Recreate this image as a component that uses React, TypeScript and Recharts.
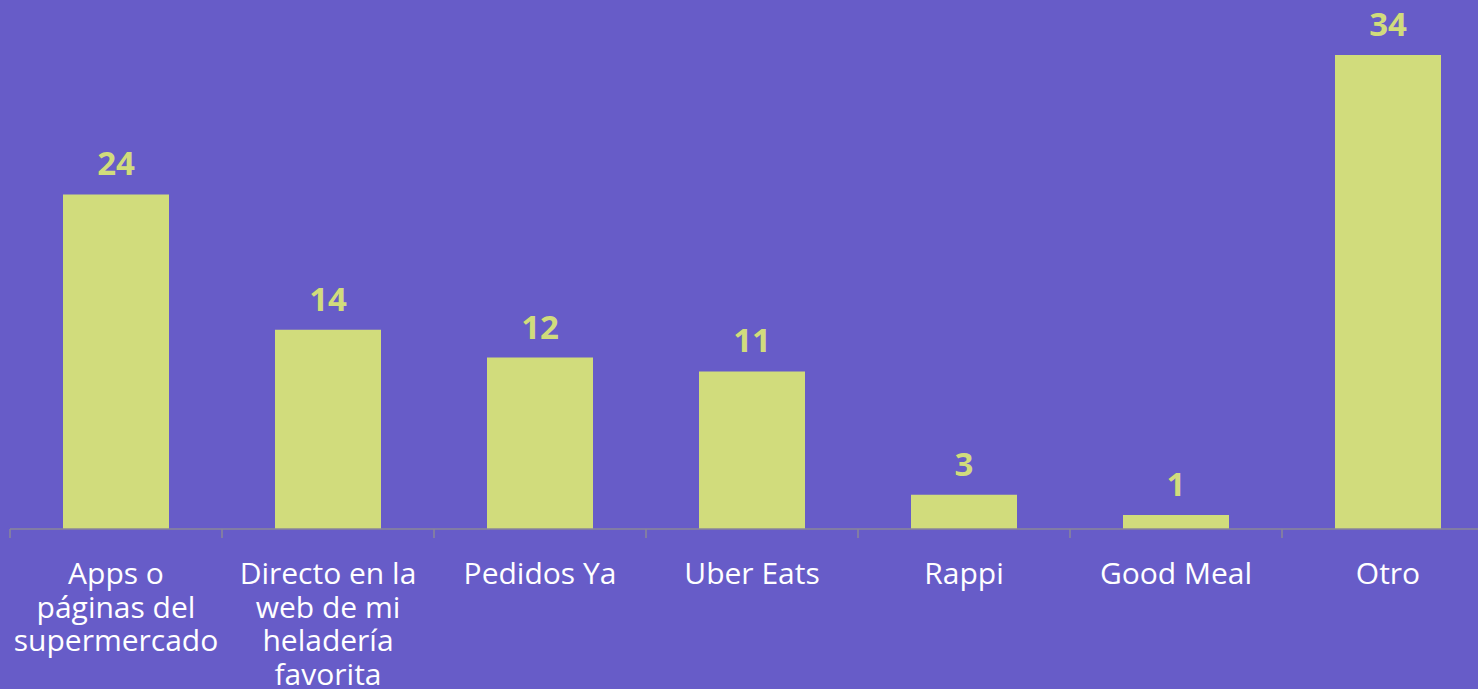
import { BarChart, Bar, XAxis, YAxis, LabelList } from "recharts";

const categories = [
  "Apps o\npáginas del\nsupermercado",
  "Directo en la\nweb de mi\nheladería\nfavorita",
  "Pedidos Ya",
  "Uber Eats",
  "Rappi",
  "Good Meal",
  "Otro",
];
// bar heights
const values = [24.0, 14.3, 12.3, 11.3, 2.45, 1.0, 34.0];
// labels as printed above the bars
const valueLabels = ["24", "14", "12", "11", "3", "1", "34"];

const data = categories.map((name, i) => ({
  name,
  value: values[i],
  label: valueLabels[i],
}));

const BG = "#675CC8";
const BAR = "#D1DC7C";
const AXIS = "#8a8798";
const FONT = "'Open Sans', sans-serif";

function CategoryTick(props: any) {
  const { x, y, payload, index, width, visibleTicksCount } = props;
  const lines = String(payload.value).split("\n");
  const bw = width && visibleTicksCount ? width / visibleTicksCount : 212;
  const axisY = y - 10;
  return (
    <g>
      <line x1={x - bw / 2} x2={x - bw / 2} y1={axisY} y2={axisY + 9} stroke={AXIS} strokeWidth={1.5} />
      {index === visibleTicksCount - 1 && (
        <line x1={x + bw / 2} x2={x + bw / 2} y1={axisY} y2={axisY + 9} stroke={AXIS} strokeWidth={1.5} />
      )}
      <text x={x} y={y} textAnchor="middle" fill="#ffffff" fontSize={30} fontFamily={FONT}>
        {lines.map((line, i) => (
          <tspan key={i} x={x} dy={i === 0 ? 45 : 33.5}>
            {line}
          </tspan>
        ))}
      </text>
    </g>
  );
}

export default function App() {
  return (
    <div
      style={{
        position: "fixed",
        top: 0,
        left: 0,
        width: 1478,
        height: 689,
        overflow: "hidden",
        background: BG,
      }}
    >
      <BarChart
        width={1494}
        height={689}
        data={data}
        margin={{ top: 55, right: 0, bottom: 0, left: 10 }}
        barCategoryGap="25%"
      >
        <YAxis hide domain={[0, 34]} />
        <XAxis
          dataKey="name"
          height={160}
          interval={0}
          stroke={AXIS}
          strokeWidth={1.5}
          tickSize={8}
          tickLine={{ stroke: "none" }}
          tick={<CategoryTick />}
        />
        <Bar dataKey="value" fill={BAR} isAnimationActive={false}>
          <LabelList
            dataKey="label"
            position="top"
            offset={19}
            fill={BAR}
            fontSize={33}
            fontWeight={700}
            fontFamily={FONT}
          />
        </Bar>
      </BarChart>
    </div>
  );
}
